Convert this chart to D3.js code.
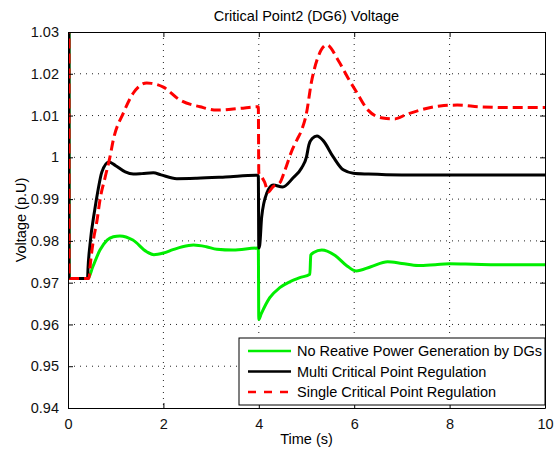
<!DOCTYPE html>
<html>
<head>
<meta charset="utf-8">
<script src="https://cdn.jsdelivr.net/npm/d3@7"></script>
<style>
  body { margin: 0; background: #fff; }
  text { font-family: "Liberation Sans", Arial, sans-serif; }
</style>
</head>
<body>
<script>
// data
const xTicks = [0, 2, 4, 6, 8, 10];
const yTicks = [0.94, 0.95, 0.96, 0.97, 0.98, 0.99, 1.0, 1.01, 1.02, 1.03];
const yTickLabels = ["0.94", "0.95", "0.96", "0.97", "0.98", "0.99", "1", "1.01", "1.02", "1.03"];
const seriesNames = ["No Reative Power Generation by DGs", "Multi Critical Point Regulation", "Single Critical Point Regulation"];

const greenT = [0.02, 0.023, 0.42, 0.52, 0.67, 0.82, 0.95, 1.09, 1.36, 1.65, 1.8, 2.0, 2.2, 2.4, 2.63, 2.9, 3.12, 3.46, 3.99,
                4.0, 4.05, 4.23, 4.44, 4.65, 4.86, 5.07, 5.09, 5.15, 5.32, 5.6, 5.85, 6.04, 6.35, 6.7, 7.0, 7.34, 7.7, 8.0, 8.5, 9.0, 9.5, 10];
const greenV = [1.05, 0.971, 0.971, 0.9738, 0.9778, 0.9802, 0.9810, 0.9812, 0.9802, 0.9774, 0.9767, 0.9771, 0.9779, 0.9786, 0.9790, 0.9786, 0.9780, 0.9778, 0.9783,
                0.9612, 0.9625, 0.9664, 0.9688, 0.9702, 0.9712, 0.9720, 0.9766, 0.9772, 0.9778, 0.9765, 0.9740, 0.9728, 0.9738, 0.9750, 0.9746, 0.9741, 0.9743, 0.9745, 0.9744, 0.9743, 0.9743, 0.9743];

const blackT = [0.02, 0.023, 0.41, 0.42, 0.46, 0.56, 0.63, 0.71, 0.86, 1.0, 1.2, 1.37, 1.55, 1.79, 1.95, 2.28, 2.7, 3.3, 3.99,
                4.0, 4.02, 4.06, 4.17, 4.3, 4.5, 4.72, 4.9, 5.0, 5.05, 5.12, 5.22, 5.35, 5.56, 5.77, 5.98, 6.3, 7.0, 8.0, 9.0, 10];
const blackV = [1.05, 0.971, 0.971, 0.9735, 0.9790, 0.9874, 0.9922, 0.9965, 0.9989, 0.9980, 0.9965, 0.9960, 0.9961, 0.9963, 0.9958, 0.9949, 0.9950, 0.9953, 0.9957,
                0.9783, 0.9790, 0.9857, 0.9915, 0.9934, 0.9929, 0.9951, 0.9975, 1.0001, 1.0030, 1.0045, 1.0051, 1.0040, 1.0001, 0.9970, 0.9962, 0.9960, 0.9958, 0.9958, 0.9958, 0.9958];

const redT = [0.02, 0.023, 0.44, 0.46, 0.53, 0.61, 0.67, 0.78, 0.88, 0.95, 1.16, 1.37, 1.65, 1.75, 2.0, 2.35, 2.77, 3.12, 3.6, 3.99,
              4.0, 4.06, 4.12, 4.2, 4.3, 4.44, 4.55, 4.7, 4.8, 4.9, 5.0, 5.1, 5.22, 5.43, 5.66, 5.87, 6.06, 6.29, 6.6, 6.85, 7.1, 7.38, 7.8, 8.16, 8.64, 9.33, 10];
const redV = [1.05, 0.971, 0.971, 0.9735, 0.9800, 0.9850, 0.9898, 0.9953, 1.0001, 1.0042, 1.0106, 1.0154, 1.0178, 1.0177, 1.0168, 1.0137, 1.0121, 1.0113, 1.0117, 1.0121,
              0.9963, 0.9953, 0.9941, 0.9917, 0.9930, 0.9939, 0.9970, 1.0018, 1.0042, 1.0066, 1.0106, 1.0178, 1.0233, 1.0269, 1.0233, 1.0190, 1.0154, 1.0113, 1.0094, 1.0092, 1.0103, 1.0113, 1.0123, 1.0125, 1.0121, 1.0119, 1.0119];

const series = [
  { name: seriesNames[0], t: greenT, v: greenV, color: "#00ee00", dash: null },
  { name: seriesNames[1], t: blackT, v: blackV, color: "#000000", dash: null },
  { name: seriesNames[2], t: redT, v: redV, color: "#ff0000", dash: "10,5" }
];

const W = 559, H = 450;
const margin = { left: 68, top: 32, right: 14, bottom: 42 };
const iw = W - margin.left - margin.right;
const ih = H - margin.top - margin.bottom;

const svg = d3.select("body").append("svg")
  .attr("width", W).attr("height", H);

svg.append("text")
  .attr("x", margin.left + iw / 2).attr("y", 21)
  .attr("text-anchor", "middle")
  .attr("font-size", "14.5px")
  .text("Critical Point2 (DG6) Voltage");

const g = svg.append("g").attr("transform", `translate(${margin.left},${margin.top})`);

const x = d3.scaleLinear().domain([0, 10]).range([0, iw]);
const y = d3.scaleLinear().domain([0.94, 1.03]).range([ih, 0]);

// dotted grid
g.append("g").selectAll("line").data(xTicks.slice(1, -1)).enter().append("line")
  .attr("x1", d => x(d)).attr("x2", d => x(d)).attr("y1", 0).attr("y2", ih)
  .attr("stroke", "#222").attr("stroke-width", 1).attr("stroke-dasharray", "1,5");
g.append("g").selectAll("line").data(yTicks.slice(1, -1)).enter().append("line")
  .attr("y1", d => y(d)).attr("y2", d => y(d)).attr("x1", 0).attr("x2", iw)
  .attr("stroke", "#222").attr("stroke-width", 1).attr("stroke-dasharray", "1,5");

// lines
g.append("clipPath").attr("id", "clip").append("rect")
  .attr("width", iw).attr("height", ih);

const line = d3.line()
  .x(d => x(d[0])).y(d => y(d[1]))
  .curve(d3.curveMonotoneX);

const plot = g.append("g").attr("clip-path", "url(#clip)");
series.forEach(s => {
  plot.append("path")
    .datum(s.t.map((t, i) => [t, s.v[i]]))
    .attr("d", line)
    .attr("fill", "none")
    .attr("stroke", s.color)
    .attr("stroke-width", 3)
    .attr("stroke-linejoin", "round")
    .attr("stroke-dasharray", s.dash);
});

// axes (MATLAB box style, ticks inward)
const xAxis = g.append("g").attr("transform", `translate(0,${ih})`)
  .call(d3.axisBottom(x).tickValues(xTicks).tickSizeInner(-5).tickSizeOuter(0).tickPadding(10).tickFormat(d3.format("d")));
const yAxis = g.append("g")
  .call(d3.axisLeft(y).tickValues(yTicks).tickSizeInner(-5).tickSizeOuter(0).tickPadding(9).tickFormat((d, i) => yTickLabels[i]));
g.append("g")
  .call(d3.axisTop(x).tickValues(xTicks).tickSizeInner(-5).tickSizeOuter(0).tickFormat(""));
g.append("g").attr("transform", `translate(${iw},0)`)
  .call(d3.axisRight(y).tickValues(yTicks).tickSizeInner(-5).tickSizeOuter(0).tickFormat(""));

g.selectAll(".domain").attr("stroke", "#000").attr("stroke-width", 1);
g.selectAll(".tick line").attr("stroke", "#000");
g.selectAll(".tick text").attr("font-size", "14.5px").attr("fill", "#111")
  .attr("font-family", "'Liberation Sans', Arial, sans-serif");
xAxis.selectAll(".tick text").attr("dy", "0.75em");

// axis labels
svg.append("text")
  .attr("x", margin.left + iw / 2).attr("y", 444)
  .attr("text-anchor", "middle").attr("font-size", "14.5px")
  .text("Time (s)");
svg.append("text")
  .attr("transform", `translate(25.5,${margin.top + ih / 2}) rotate(-90)`)
  .attr("text-anchor", "middle").attr("font-size", "14.5px")
  .text("Voltage (p.U)");

// legend
const lg = svg.append("g").attr("transform", "translate(239,338)");
lg.append("rect")
  .attr("width", 306).attr("height", 67)
  .attr("fill", "#fff").attr("stroke", "#000").attr("stroke-width", 1);
series.forEach((s, i) => {
  const yy = 13 + i * 20.5;
  lg.append("line")
    .attr("x1", 9).attr("x2", 52).attr("y1", yy).attr("y2", yy)
    .attr("stroke", s.color).attr("stroke-width", 2.5)
    .attr("stroke-dasharray", s.dash ? "8,8" : null);
  lg.append("text")
    .attr("x", 58).attr("y", yy + 5)
    .attr("font-size", "14.5px")
    .text(s.name);
});
</script>
</body>
</html>
